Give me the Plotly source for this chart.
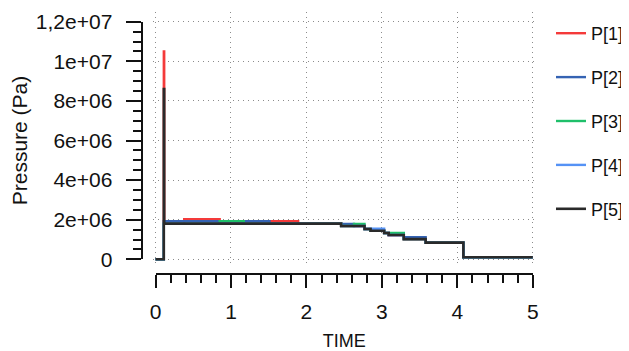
import plotly.graph_objects as go

# ---- data ----
series_names = ["P[1]", "P[2]", "P[3]", "P[4]", "P[5]"]
series_colors = ["#f43a3a", "#3563b3", "#1fbf6a", "#5592f5", "#2a2a2a"]

t1 = [0, 0.11, 0.115, 0.38, 0.85, 1.51, 1.89, 2.46, 2.77, 2.85, 3.03, 3.09, 3.29, 3.58, 4.08, 5.0]
p1 = [0, 1.05e7, 1.8e6, 2.02e6, 1.8e6, 1.92e6, 1.8e6, 1.68e6, 1.53e6, 1.44e6, 1.33e6, 1.23e6, 1.02e6, 0.84e6, 1e5, 1e5]

t2 = [0, 0.11, 0.85, 1.17, 1.51, 2.46, 2.63, 2.77, 2.85, 3.03, 3.09, 3.29, 3.58, 4.08, 5.0]
p2 = [0, 1.92e6, 1.8e6, 1.92e6, 1.8e6, 1.78e6, 1.68e6, 1.53e6, 1.44e6, 1.33e6, 1.23e6, 1.12e6, 0.84e6, 1e5, 1e5]

t3 = [0, 0.11, 0.85, 1.17, 2.46, 2.63, 2.77, 2.85, 3.03, 3.09, 3.29, 3.58, 4.08, 5.0]
p3 = [0, 1.8e6, 1.92e6, 1.8e6, 1.68e6, 1.78e6, 1.53e6, 1.44e6, 1.33e6, 1.33e6, 1.02e6, 0.84e6, 1e5, 1e5]

t4 = [0, 0.11, 2.46, 2.77, 2.85, 3.03, 3.09, 3.29, 3.58, 4.08, 5.0]
p4 = [0, 1.8e6, 1.68e6, 1.53e6, 1.54e6, 1.33e6, 1.23e6, 1.02e6, 0.84e6, 1e5, 1e5]

t5 = [0, 0.11, 0.115, 2.46, 2.77, 2.85, 3.03, 3.09, 3.29, 3.58, 4.08, 5.0]
p5 = [0, 8.6e6, 1.8e6, 1.68e6, 1.53e6, 1.44e6, 1.33e6, 1.23e6, 1.02e6, 0.84e6, 1e5, 1e5]

x_tickvals = [0, 1, 2, 3, 4, 5]
x_ticktext = ["0", "1", "2", "3", "4", "5"]
y_tickvals = [0, 2e6, 4e6, 6e6, 8e6, 1e7, 1.2e7]
y_ticktext = ["0", "2e+06", "4e+06", "6e+06", "8e+06", "1e+07", "1,2e+07"]

# ---- layout helpers: page has an 8px body margin, so work in reference px - 8 ----
OFF = 8
W, H = 629 - OFF, 351 - OFF
def px_x(p):
    return (p - OFF) / W
def px_y(p):
    return 1 - (p - OFF) / H

FONT = "Liberation Sans, Arial, sans-serif"
INK = "#111111"

fig = go.Figure()
all_t = [t1, t2, t3, t4, t5]
all_p = [p1, p2, p3, p4, p5]
for i in range(5):
    fig.add_trace(go.Scatter(
        x=all_t[i], y=all_p[i], mode="lines", name=series_names[i],
        line=dict(color=series_colors[i], width=2.6 if i == 4 else 2.4, shape="hv"),
        legendgroup=series_names[i], xaxis="x", yaxis="y",
    ))

# invisible trace that carries the detached tick axes
fig.add_trace(go.Scatter(
    x=t5, y=p5, mode="lines", xaxis="x2", yaxis="y2",
    opacity=0, showlegend=False, hoverinfo="skip",
))

# data mapping (reference px): x=0 at 156, 75.7 px/unit ; y=0 at 259.3, 19.8 px per 1e6
x0px, xs = 156.0, 75.7
y0px, ys = 259.3, 19.8e-6
plot_l, plot_r, plot_t, plot_b = 153, 538, 12, 265
xr = [(plot_l - x0px) / xs, (plot_r - x0px) / xs]
yr = [(y0px - plot_b) / ys, (y0px - plot_t) / ys]

grid = dict(showgrid=True, gridcolor="#8c8c8c", griddash="1px,4px", gridwidth=1,
            zeroline=False, showline=False, ticks="", showticklabels=False,
            automargin=False, fixedrange=True)

fig.update_layout(
    width=W, height=H, autosize=False,
    margin=dict(l=0, r=0, t=0, b=0),
    paper_bgcolor="white", plot_bgcolor="rgba(0,0,0,0)",
    font=dict(family=FONT, color=INK),
    xaxis=dict(domain=[px_x(plot_l), px_x(plot_r)], range=xr, tickvals=x_tickvals, anchor="y", **grid),
    yaxis=dict(domain=[px_y(plot_b), px_y(plot_t)], range=yr, tickvals=y_tickvals, anchor="x", **grid),
    xaxis2=dict(
        domain=[px_x(x0px), px_x(x0px + 5 * xs)], range=[0, 5],
        anchor="free", position=px_y(274),
        showline=True, linecolor=INK, linewidth=2,
        ticks="outside", ticklen=13, tickwidth=2, tickcolor=INK,
        tickvals=x_tickvals, ticktext=x_ticktext, ticklabelstandoff=6,
        minor=dict(dtick=0.2, tick0=0, ticks="outside", ticklen=8, tickwidth=2, tickcolor=INK, showgrid=False),
        tickfont=dict(size=21, family=FONT, color=INK),
        showgrid=False, zeroline=False, automargin=False, fixedrange=True,
        title=dict(text="TIME", font=dict(size=18, family=FONT, color=INK), standoff=12),
    ),
    yaxis2=dict(
        domain=[px_y(y0px), px_y(y0px - 1.2e7 * ys)], range=[0, 1.2e7],
        anchor="free", position=px_x(142),
        showline=True, linecolor=INK, linewidth=2,
        ticks="outside", ticklen=15, tickwidth=2, tickcolor=INK,
        tickvals=y_tickvals, ticktext=y_ticktext, ticklabelstandoff=9,
        minor=dict(dtick=5e5, tick0=0, ticks="outside", ticklen=8, tickwidth=2, tickcolor=INK, showgrid=False),
        tickfont=dict(size=21, family=FONT, color=INK),
        showgrid=False, zeroline=False, automargin=False, fixedrange=True,
        title=dict(text="Pressure (Pa)", font=dict(size=21, family=FONT, color=INK), standoff=8),
    ),
    legend=dict(
        x=px_x(553), xanchor="left", y=px_y(15), yanchor="top",
        font=dict(size=18, family=FONT, color=INK),
        itemwidth=30, tracegroupgap=17.5, bgcolor="rgba(0,0,0,0)",
    ),
    showlegend=True,
)

fig.write_html("out.html")
